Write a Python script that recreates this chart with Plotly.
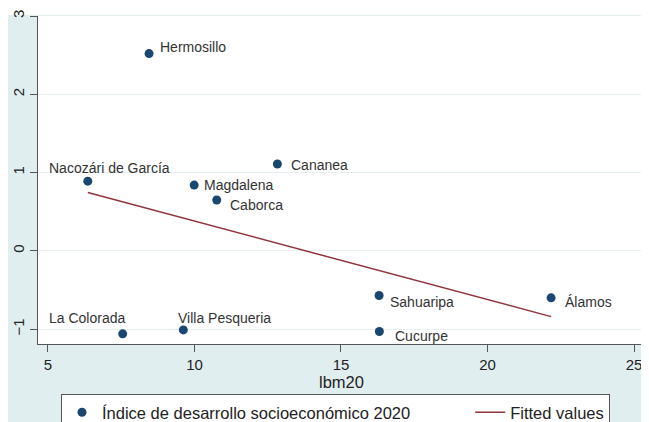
import plotly.graph_objects as go

# ---- data ----
municipios = ["Hermosillo", "Nacozári de García", "Magdalena", "Caborca", "Cananea",
              "Sahuaripa", "Álamos", "Cucurpe", "La Colorada", "Villa Pesqueria"]
lbm20 = [8.45, 6.36, 9.99, 10.76, 12.83, 16.30, 22.17, 16.31, 7.55, 9.62]
indice = [2.52, 0.89, 0.84, 0.65, 1.11, -0.57, -0.60, -1.03, -1.06, -1.01]

fit_x = [6.36, 22.17]
fit_y = [0.745, -0.84]

x_ticks = [5, 10, 15, 20, 25]
y_ticks = [-1, 0, 1, 2, 3]

# label placement (style): xanchor, xshift, yshift
label_pos = {
    "Hermosillo": ("left", 9, 7),
    "Nacozári de García": ("left", -41, 13),
    "Magdalena": ("left", 8, 0),
    "Caborca": ("left", 11, -5),
    "Cananea": ("left", 12, -1),
    "Sahuaripa": ("left", 9, -7),
    "Álamos": ("left", 12, -4),
    "Cucurpe": ("left", 14, -5),
    "La Colorada": ("right", 4, 16),
    "Villa Pesqueria": ("left", -7, 12),
}

NAVY = "#1a476f"
MAROON = "#90353b"
BG = "#e1eef0"
FONT = "Liberation Sans, Arial, sans-serif"

fig = go.Figure()
fig.add_trace(go.Scatter(
    x=lbm20, y=indice, mode="markers",
    marker=dict(color=NAVY, size=9, line=dict(width=0)),
    name="Índice de desarrollo socioeconómico 2020" + "\u00a0" * 12,
))
fig.add_trace(go.Scatter(
    x=fit_x, y=fit_y, mode="lines",
    line=dict(color=MAROON, width=1.5),
    name="Fitted values",
))

for name, xv, yv in zip(municipios, lbm20, indice):
    anc, xs, ys = label_pos[name]
    fig.add_annotation(x=xv, y=yv, text=name, showarrow=False,
                       xanchor=anc, yanchor="middle", xshift=xs, yshift=ys,
                       font=dict(family=FONT, size=14, color="#333333"))

# page has an 8px body margin; figure sits at (8, 8)
L, R, T, B = 30, 4, 8, 78
W, H = 641, 414
pw, ph = W - L - R, H - T - B
# white band at the top of the (cropped) graph
fig.add_shape(type="rect", xref="paper", yref="paper", layer="below",
              x0=-L / pw, x1=1 + R / pw,
              y0=(ph + T - 7) / ph, y1=(ph + T) / ph,
              fillcolor="white", line=dict(width=0))

fig.update_layout(
    width=W, height=H,
    margin=dict(l=L, r=R, t=T, b=B, pad=0, autoexpand=False),
    paper_bgcolor=BG, plot_bgcolor="white",
    font=dict(family=FONT, size=15, color="#222222"),
    showlegend=True,
    legend=dict(orientation="h", x=(53 - L) / pw, xanchor="left",
                y=(ph + T - 386) / ph, yanchor="top",
                bgcolor="white", bordercolor="#555555", borderwidth=1,
                font=dict(family=FONT, size=16.5, color="#222222"),
                itemwidth=30, tracegroupgap=0),
)
fig.update_xaxes(range=[4.66, 25.375], tickvals=x_ticks, ticks="outside", ticklen=7,
                 tickcolor="#555555", showline=True, linecolor="#555555", linewidth=1,
                 showgrid=False, zeroline=False, mirror=False, automargin=False,
                 title=dict(text="lbm20", standoff=1, font=dict(size=16.5)),
                 tickfont=dict(size=15))
fig.update_yaxes(range=[-1.19, 3.0], tickvals=y_ticks, ticks="outside", ticklen=7,
                 tickcolor="#555555", showline=True, linecolor="#555555", linewidth=1,
                 showgrid=True, gridcolor="#e6eff1", gridwidth=1, zeroline=False,
                 automargin=False,
                 tickangle=-90, tickfont=dict(size=15))

fig.write_html("out.html")
